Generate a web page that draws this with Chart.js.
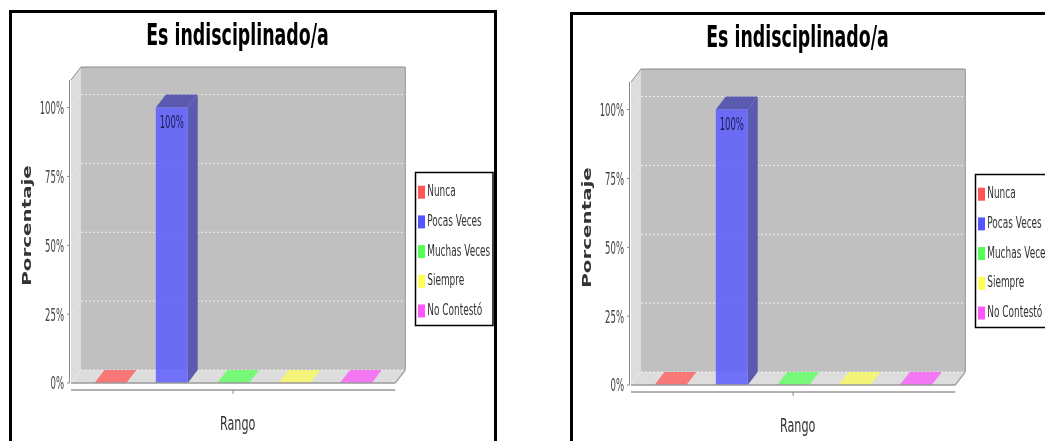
<!DOCTYPE html>
<html>
<head>
<meta charset="utf-8">
<style>
  html, body { margin: 0; background: #fff; overflow: hidden; width: 1045px; height: 441px; }
  .marco { position: absolute; border: 3px solid #000; border-bottom: none; box-sizing: border-box; }
  canvas { position: absolute; }
</style>
</head>
<body>
<div class="marco" style="left:9px;top:10px;width:488px;height:431px"></div>
<div class="marco" style="left:570px;top:12px;width:520px;height:429px"></div>
<canvas id="grafico1" width="540" height="441" style="left:0;top:0;width:540px;height:441px"></canvas>
<canvas id="grafico2" width="540" height="441" style="left:560px;top:2px;width:540px;height:441px"></canvas>
<script src="https://cdn.jsdelivr.net/npm/chart.js@4"></script>
<script>
// Datos
const titulo = "Es indisciplinado/a"
const categorias = ["Rango"]
const rangos = ["Nunca", "Pocas Veces", "Muchas Veces", "Siempre", "No Contestó"]
const valores = [0, 100, 0, 0, 0]
const marcasY = [0, 25, 50, 75, 100]

// Estilo
const coloresLeyenda = ["#ff5555", "#5555ff", "#55ff55", "#ffff55", "#ff55ff"]
const coloresBarra = ["rgba(255,85,85,.8)", "rgba(85,85,255,.8)", "rgba(85,255,85,.8)", "rgba(255,255,85,.8)", "rgba(255,85,255,.8)"]
const coloresSuelo = ["#f87878", "#6e6eee", "#78f878", "#f4f478", "#f478f4"]
const coloresLado = ["#b05a5a", "#5a5ab0", "#5ab05a", "#b0b05a", "#b05ab0"]
const fondoMuro = "#c0c0c0"
const fondoLado = "#dddddd"
const bordeGris = "#8a8a8a"
const fuente = "'DejaVu Sans', sans-serif"
const dx = 10
const dy = 13

// El texto del original esta deformado: angosto en general, ancho en el eje Y
function escalaTexto(font) {
  if (font.includes("bold") && font.includes("13px")) return 1.53
  if (font.includes("bold")) return 0.58
  if (font.includes("17px")) return 0.5
  return 0.56
}

// Los titulos de los ejes no quedan centrados en el original
function corrimientoTexto(font) {
  if (font.includes("bold") && font.includes("13px")) return 6
  if (font.includes("20px")) return 4.5
  return 0
}

function deformarTexto(ctx) {
  const fillOriginal = ctx.fillText
  ctx.fillText = function (texto, x, y) {
    const k = escalaTexto(ctx.font)
    ctx.save()
    ctx.translate(x, y)
    ctx.translate(corrimientoTexto(ctx.font), 0)
    ctx.scale(k, 1)
    fillOriginal.call(ctx, texto, 0, 0)
    ctx.restore()
  }
}

function poligono(ctx, puntos, relleno) {
  ctx.beginPath()
  puntos.forEach((p, i) => i ? ctx.lineTo(p[0], p[1]) : ctx.moveTo(p[0], p[1]))
  ctx.closePath()
  ctx.fillStyle = relleno
  ctx.fill()
}

function linea(ctx, x1, y1, x2, y2, color, ancho, guiones) {
  ctx.beginPath()
  ctx.setLineDash(guiones || [])
  ctx.moveTo(x1, y1)
  ctx.lineTo(x2, y2)
  ctx.strokeStyle = color
  ctx.lineWidth = ancho
  ctx.stroke()
  ctx.setLineDash([])
}

// Dibuja el fondo 3D, la parte lateral de las barras y la leyenda
const plugin3d = {
  id: "plugin3d",
  beforeDraw(chart) {
    // la leyenda y el titulo se ubican a mano
    const leyenda = chart.legend
    leyenda.left = 405.5
    leyenda.right = 540
    leyenda.top = 170.5
    leyenda.bottom = 441
    leyenda.adjustHitBoxes()
    chart.titleBlock.left = 0
    chart.titleBlock.right = 475
  },
  beforeDatasetsDraw(chart) {
    const { ctx, chartArea: a, scales } = chart
    ctx.save()
    poligono(ctx, [[a.left + dx, a.top - dy], [a.right + dx, a.top - dy], [a.right + dx, a.bottom - dy], [a.left + dx, a.bottom - dy]], fondoMuro)
    poligono(ctx, [[a.left, a.top], [a.left + dx, a.top - dy], [a.left + dx, a.bottom - dy], [a.left, a.bottom]], fondoLado)
    poligono(ctx, [[a.left, a.bottom], [a.right, a.bottom], [a.right + dx, a.bottom - dy], [a.left + dx, a.bottom - dy]], fondoLado)
    linea(ctx, a.left + dx, a.top - dy, a.right + dx, a.top - dy, bordeGris, 1)
    linea(ctx, a.left, a.top, a.left + dx, a.top - dy, bordeGris, 1)
    linea(ctx, a.right + dx, a.top - dy, a.right + dx, a.bottom - dy, "#a8a8a8", 1.5)
    linea(ctx, a.right, a.bottom, a.right + dx, a.bottom - dy, "#a8a8a8", 1.5)
    marcasY.forEach(v => {
      const y = scales.y.getPixelForValue(v)
      linea(ctx, a.left + dx, y - dy, a.right + dx, y - dy, "rgba(255,255,255,.7)", 1, [2, 2])
      linea(ctx, a.left, y, a.left + dx, y - dy, "rgba(255,255,255,.5)", 1, [2, 2])
    })
    valores.forEach((v, i) => {
      const b = chart.getDatasetMeta(i).data[0]
      const x1 = b.x - b.width / 2
      const x2 = b.x + b.width / 2
      if (v === 0) {
        poligono(ctx, [[x1, b.base], [x2, b.base], [x2 + dx, b.base - dy], [x1 + dx, b.base - dy]], coloresSuelo[i])
      } else {
        poligono(ctx, [[x2, b.y], [x2 + dx, b.y - dy], [x2 + dx, b.base - dy], [x2, b.base]], coloresLado[i])
        poligono(ctx, [[x1, b.y], [x1 + dx, b.y - dy], [x2 + dx, b.y - dy], [x2, b.y]], coloresLado[i])
      }
    })
    ctx.restore()
  },
  afterDatasetsDraw(chart) {
    const { ctx, chartArea: a, scales } = chart
    ctx.save()
    // linea del piso y ejes
    linea(ctx, a.left, a.bottom, a.right, a.bottom, "#999999", 1.5)
    linea(ctx, a.left - 1.5, a.top, a.left - 1.5, a.bottom, bordeGris, 1)
    linea(ctx, a.left, a.bottom + 7, a.right, a.bottom + 7, "#999999", 1.5)
    marcasY.forEach(v => {
      const y = scales.y.getPixelForValue(v)
      linea(ctx, a.left - 4, y, a.left - 1.5, y, bordeGris, 1)
    })
    const cx = scales.x.getPixelForTick(0)
    linea(ctx, cx, a.bottom + 7, cx, a.bottom + 11, bordeGris, 1)
    // etiqueta de la barra
    valores.forEach((v, i) => {
      if (v === 0) return
      const b = chart.getDatasetMeta(i).data[0]
      ctx.fillStyle = "#1c1c55"
      ctx.font = "17px " + fuente
      ctx.textAlign = "center"
      ctx.textBaseline = "middle"
      ctx.fillText(v + "%", b.x, b.y + 16)
    })
    // recuadro y muestras de la leyenda
    ctx.strokeStyle = "#000"
    ctx.lineWidth = 1.5
    ctx.strokeRect(415.5, 172.5, 77.5, 153)
    chart.legend.legendHitBoxes.forEach((caja, i) => {
      ctx.fillStyle = coloresLeyenda[i]
      ctx.fillRect(418, caja.top + caja.height / 2 - 6.5, 7, 13)
    })
    ctx.restore()
  }
}

function crearGrafico(id) {
  const lienzo = document.getElementById(id)
  deformarTexto(lienzo.getContext("2d"))
  return new Chart(lienzo, {
    type: "bar",
    data: {
      labels: categorias,
      datasets: rangos.map((r, i) => ({
        label: r,
        data: [valores[i]],
        backgroundColor: coloresBarra[i],
        categoryPercentage: 0.946,
        barPercentage: 0.52
      }))
    },
    options: {
      responsive: false,
      animation: false,
      layout: { padding: { right: 13 } },
      plugins: {
        tooltip: { enabled: false },
        title: {
          display: true,
          text: titulo,
          color: "#000",
          font: { family: fuente, size: 30, weight: "bold" },
          padding: { top: 19, bottom: 25 }
        },
        legend: {
          position: "right",
          align: "start",
          labels: {
            boxWidth: 0,
            boxHeight: 13,
            padding: 13.7,
            color: "#333",
            font: { family: fuente, size: 16 }
          }
        }
      },
      scales: {
        x: {
          afterFit: s => { s.height = 58 },
          grid: { display: false },
          border: { display: false },
          ticks: { display: false },
          title: { display: true, text: "Rango", color: "#333", font: { family: fuente, size: 20 }, padding: { top: 30 } }
        },
        y: {
          min: 0,
          max: 110,
          afterFit: s => { s.width = 71 },
          afterBuildTicks: s => { s.ticks = marcasY.map(v => ({ value: v })) },
          grid: { display: false, drawTicks: false },
          border: { display: false },
          ticks: { padding: 7, labelOffset: 2, color: "#444", font: { family: fuente, size: 17 }, callback: v => v + "%" },
          title: { display: true, text: "Porcentaje", color: "#333", font: { family: fuente, size: 13, weight: "bold" }, padding: { top: 20, bottom: 0 } }
        }
      }
    },
    plugins: [plugin3d]
  })
}

crearGrafico("grafico1")
crearGrafico("grafico2")
</script>
</body>
</html>
